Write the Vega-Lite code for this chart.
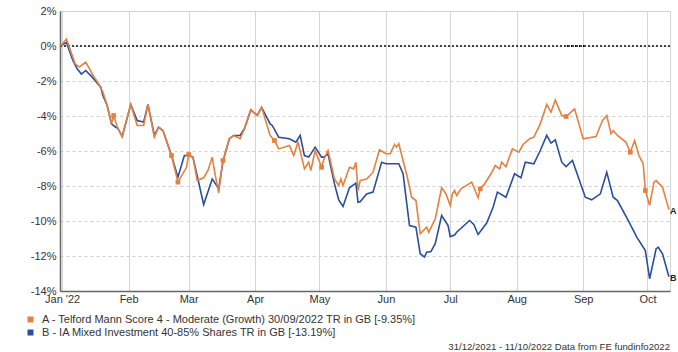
{
  "$schema": "https://vega.github.io/schema/vega-lite/v6.json",
  "width": 610,
  "height": 280,
  "autosize": {"type": "none"},
  "padding": {"left": 60, "top": 11, "right": 8, "bottom": 61},
  "config": {
    "font": "Liberation Sans",
    "view": {"stroke": "#d4d4d4"},
    "axis": {"labelColor": "#333", "labelFontSize": 11, "tickSize": 0, "domainColor": "#666", "domainWidth": 1.5, "titleFontSize": 11}
  },
  "title": {"text": "31/12/2021 - 11/10/2022 Data from FE fundinfo2022", "orient": "bottom", "anchor": "end", "frame": "group", "fontSize": 9.6, "fontWeight": "normal", "color": "#333", "offset": 2},
  "data": {"values": [
    {"d": "2021-12-31", "s": "A", "v": 0},
    {"d": "2022-01-01", "s": "A", "v": 0.1},
    {"d": "2022-01-03", "s": "A", "v": 0.4},
    {"d": "2022-01-05", "s": "A", "v": -0.3},
    {"d": "2022-01-07", "s": "A", "v": -1.0},
    {"d": "2022-01-09", "s": "A", "v": -1.2},
    {"d": "2022-01-12", "s": "A", "v": -0.93},
    {"d": "2022-01-14", "s": "A", "v": -1.35},
    {"d": "2022-01-15", "s": "A", "v": -1.6},
    {"d": "2022-01-18", "s": "A", "v": -2.16},
    {"d": "2022-01-20", "s": "A", "v": -2.64},
    {"d": "2022-01-22", "s": "A", "v": -3.4},
    {"d": "2022-01-24", "s": "A", "v": -4.45},
    {"d": "2022-01-25", "s": "A", "v": -3.97, "m": 1},
    {"d": "2022-01-27", "s": "A", "v": -4.73},
    {"d": "2022-01-29", "s": "A", "v": -5.17},
    {"d": "2022-02-02", "s": "A", "v": -3.34},
    {"d": "2022-02-05", "s": "A", "v": -4.54},
    {"d": "2022-02-08", "s": "A", "v": -4.54},
    {"d": "2022-02-10", "s": "A", "v": -3.34},
    {"d": "2022-02-13", "s": "A", "v": -5.2},
    {"d": "2022-02-15", "s": "A", "v": -4.64},
    {"d": "2022-02-17", "s": "A", "v": -4.83},
    {"d": "2022-02-21", "s": "A", "v": -6.26, "m": 1},
    {"d": "2022-02-24", "s": "A", "v": -7.78, "m": 1},
    {"d": "2022-02-28", "s": "A", "v": -6.93},
    {"d": "2022-03-01", "s": "A", "v": -6.2, "m": 1},
    {"d": "2022-03-03", "s": "A", "v": -6.35},
    {"d": "2022-03-05", "s": "A", "v": -7.69},
    {"d": "2022-03-08", "s": "A", "v": -7.53},
    {"d": "2022-03-10", "s": "A", "v": -7.11},
    {"d": "2022-03-12", "s": "A", "v": -6.35},
    {"d": "2022-03-13", "s": "A", "v": -7.11},
    {"d": "2022-03-15", "s": "A", "v": -8.4},
    {"d": "2022-03-17", "s": "A", "v": -6.54, "m": 1},
    {"d": "2022-03-20", "s": "A", "v": -5.3},
    {"d": "2022-03-22", "s": "A", "v": -5.11},
    {"d": "2022-03-25", "s": "A", "v": -5.3},
    {"d": "2022-03-27", "s": "A", "v": -4.73},
    {"d": "2022-03-30", "s": "A", "v": -3.65},
    {"d": "2022-04-02", "s": "A", "v": -3.97},
    {"d": "2022-04-04", "s": "A", "v": -3.5},
    {"d": "2022-04-08", "s": "A", "v": -5.11},
    {"d": "2022-04-10", "s": "A", "v": -5.4, "m": 1},
    {"d": "2022-04-12", "s": "A", "v": -5.88},
    {"d": "2022-04-17", "s": "A", "v": -5.69},
    {"d": "2022-04-19", "s": "A", "v": -6.26},
    {"d": "2022-04-21", "s": "A", "v": -5.5},
    {"d": "2022-04-24", "s": "A", "v": -7.02},
    {"d": "2022-04-26", "s": "A", "v": -6.64},
    {"d": "2022-04-27", "s": "A", "v": -7.11},
    {"d": "2022-04-29", "s": "A", "v": -5.97},
    {"d": "2022-05-02", "s": "A", "v": -6.93, "m": 1},
    {"d": "2022-05-03", "s": "A", "v": -6.5},
    {"d": "2022-05-05", "s": "A", "v": -5.97},
    {"d": "2022-05-08", "s": "A", "v": -7.6},
    {"d": "2022-05-10", "s": "A", "v": -7.97},
    {"d": "2022-05-11", "s": "A", "v": -7.6},
    {"d": "2022-05-12", "s": "A", "v": -7.97},
    {"d": "2022-05-15", "s": "A", "v": -6.93},
    {"d": "2022-05-17", "s": "A", "v": -7.02},
    {"d": "2022-05-18", "s": "A", "v": -6.64},
    {"d": "2022-05-19", "s": "A", "v": -8.26},
    {"d": "2022-05-20", "s": "A", "v": -7.69},
    {"d": "2022-05-23", "s": "A", "v": -7.6},
    {"d": "2022-05-26", "s": "A", "v": -7.21},
    {"d": "2022-05-29", "s": "A", "v": -5.93},
    {"d": "2022-06-01", "s": "A", "v": -6.16},
    {"d": "2022-06-03", "s": "A", "v": -6.16},
    {"d": "2022-06-05", "s": "A", "v": -5.63},
    {"d": "2022-06-06", "s": "A", "v": -5.78},
    {"d": "2022-06-07", "s": "A", "v": -5.59},
    {"d": "2022-06-11", "s": "A", "v": -7.5},
    {"d": "2022-06-13", "s": "A", "v": -8.64},
    {"d": "2022-06-15", "s": "A", "v": -8.83},
    {"d": "2022-06-17", "s": "A", "v": -10.73},
    {"d": "2022-06-20", "s": "A", "v": -10.35},
    {"d": "2022-06-21", "s": "A", "v": -10.64},
    {"d": "2022-06-24", "s": "A", "v": -9.87},
    {"d": "2022-06-27", "s": "A", "v": -8.1},
    {"d": "2022-06-29", "s": "A", "v": -8.45},
    {"d": "2022-07-01", "s": "A", "v": -9.11},
    {"d": "2022-07-02", "s": "A", "v": -8.45},
    {"d": "2022-07-03", "s": "A", "v": -8.26},
    {"d": "2022-07-04", "s": "A", "v": -8.54},
    {"d": "2022-07-06", "s": "A", "v": -8.16},
    {"d": "2022-07-11", "s": "A", "v": -7.78},
    {"d": "2022-07-12", "s": "A", "v": -8.07},
    {"d": "2022-07-14", "s": "A", "v": -8.67},
    {"d": "2022-07-15", "s": "A", "v": -8.16, "m": 1},
    {"d": "2022-07-17", "s": "A", "v": -7.88},
    {"d": "2022-07-20", "s": "A", "v": -7.3},
    {"d": "2022-07-22", "s": "A", "v": -6.83},
    {"d": "2022-07-24", "s": "A", "v": -7.02},
    {"d": "2022-07-25", "s": "A", "v": -6.64},
    {"d": "2022-07-27", "s": "A", "v": -6.9},
    {"d": "2022-07-28", "s": "A", "v": -6.54},
    {"d": "2022-07-30", "s": "A", "v": -5.88},
    {"d": "2022-08-02", "s": "A", "v": -6.07},
    {"d": "2022-08-04", "s": "A", "v": -5.63},
    {"d": "2022-08-07", "s": "A", "v": -5.3},
    {"d": "2022-08-09", "s": "A", "v": -5.21},
    {"d": "2022-08-12", "s": "A", "v": -4.45},
    {"d": "2022-08-15", "s": "A", "v": -3.34},
    {"d": "2022-08-17", "s": "A", "v": -3.78},
    {"d": "2022-08-19", "s": "A", "v": -3.08},
    {"d": "2022-08-22", "s": "A", "v": -3.97},
    {"d": "2022-08-24", "s": "A", "v": -4.03, "m": 1},
    {"d": "2022-08-28", "s": "A", "v": -3.59},
    {"d": "2022-09-01", "s": "A", "v": -5.3},
    {"d": "2022-09-07", "s": "A", "v": -5.17},
    {"d": "2022-09-10", "s": "A", "v": -4.26},
    {"d": "2022-09-12", "s": "A", "v": -3.97},
    {"d": "2022-09-14", "s": "A", "v": -5.02},
    {"d": "2022-09-15", "s": "A", "v": -4.83},
    {"d": "2022-09-17", "s": "A", "v": -5.11},
    {"d": "2022-09-21", "s": "A", "v": -5.5},
    {"d": "2022-09-23", "s": "A", "v": -6.07, "m": 1},
    {"d": "2022-09-25", "s": "A", "v": -5.4},
    {"d": "2022-09-27", "s": "A", "v": -6.26},
    {"d": "2022-09-29", "s": "A", "v": -6.73},
    {"d": "2022-09-30", "s": "A", "v": -8.26, "m": 1},
    {"d": "2022-10-02", "s": "A", "v": -9.11},
    {"d": "2022-10-04", "s": "A", "v": -7.78},
    {"d": "2022-10-05", "s": "A", "v": -7.69},
    {"d": "2022-10-08", "s": "A", "v": -8.07},
    {"d": "2022-10-11", "s": "A", "v": -9.35},
    {"d": "2021-12-31", "s": "B", "v": 0},
    {"d": "2022-01-03", "s": "B", "v": 0.2},
    {"d": "2022-01-06", "s": "B", "v": -0.83},
    {"d": "2022-01-08", "s": "B", "v": -1.3},
    {"d": "2022-01-10", "s": "B", "v": -1.6},
    {"d": "2022-01-12", "s": "B", "v": -1.4},
    {"d": "2022-01-15", "s": "B", "v": -1.78},
    {"d": "2022-01-19", "s": "B", "v": -2.35},
    {"d": "2022-01-20", "s": "B", "v": -2.83},
    {"d": "2022-01-22", "s": "B", "v": -3.4},
    {"d": "2022-01-24", "s": "B", "v": -4.45},
    {"d": "2022-01-26", "s": "B", "v": -4.64},
    {"d": "2022-01-27", "s": "B", "v": -4.7},
    {"d": "2022-01-29", "s": "B", "v": -5.17},
    {"d": "2022-02-02", "s": "B", "v": -3.34},
    {"d": "2022-02-05", "s": "B", "v": -4.26},
    {"d": "2022-02-08", "s": "B", "v": -4.35},
    {"d": "2022-02-10", "s": "B", "v": -3.34},
    {"d": "2022-02-13", "s": "B", "v": -5.1},
    {"d": "2022-02-15", "s": "B", "v": -4.64},
    {"d": "2022-02-17", "s": "B", "v": -4.83},
    {"d": "2022-02-21", "s": "B", "v": -6.26},
    {"d": "2022-02-24", "s": "B", "v": -7.5},
    {"d": "2022-02-27", "s": "B", "v": -6.26},
    {"d": "2022-03-01", "s": "B", "v": -6.26},
    {"d": "2022-03-03", "s": "B", "v": -6.35},
    {"d": "2022-03-08", "s": "B", "v": -9.06},
    {"d": "2022-03-12", "s": "B", "v": -7.6},
    {"d": "2022-03-13", "s": "B", "v": -7.78},
    {"d": "2022-03-15", "s": "B", "v": -8.16},
    {"d": "2022-03-17", "s": "B", "v": -6.6},
    {"d": "2022-03-20", "s": "B", "v": -5.3},
    {"d": "2022-03-22", "s": "B", "v": -5.11},
    {"d": "2022-03-25", "s": "B", "v": -5.11},
    {"d": "2022-03-27", "s": "B", "v": -4.73},
    {"d": "2022-03-30", "s": "B", "v": -3.65},
    {"d": "2022-04-02", "s": "B", "v": -3.97},
    {"d": "2022-04-04", "s": "B", "v": -3.5},
    {"d": "2022-04-08", "s": "B", "v": -4.45},
    {"d": "2022-04-09", "s": "B", "v": -4.54},
    {"d": "2022-04-12", "s": "B", "v": -5.21},
    {"d": "2022-04-17", "s": "B", "v": -5.3},
    {"d": "2022-04-20", "s": "B", "v": -5.5},
    {"d": "2022-04-22", "s": "B", "v": -5.11},
    {"d": "2022-04-24", "s": "B", "v": -6.26},
    {"d": "2022-04-26", "s": "B", "v": -6.35},
    {"d": "2022-04-29", "s": "B", "v": -5.78},
    {"d": "2022-05-02", "s": "B", "v": -6.35},
    {"d": "2022-05-03", "s": "B", "v": -6.35},
    {"d": "2022-05-05", "s": "B", "v": -6.16},
    {"d": "2022-05-08", "s": "B", "v": -7.88},
    {"d": "2022-05-10", "s": "B", "v": -8.79},
    {"d": "2022-05-12", "s": "B", "v": -9.17},
    {"d": "2022-05-15", "s": "B", "v": -8.1},
    {"d": "2022-05-18", "s": "B", "v": -7.84},
    {"d": "2022-05-19", "s": "B", "v": -8.93},
    {"d": "2022-05-20", "s": "B", "v": -8.9},
    {"d": "2022-05-23", "s": "B", "v": -8.45},
    {"d": "2022-05-26", "s": "B", "v": -8.35},
    {"d": "2022-05-30", "s": "B", "v": -6.64},
    {"d": "2022-06-01", "s": "B", "v": -6.73},
    {"d": "2022-06-07", "s": "B", "v": -6.73},
    {"d": "2022-06-09", "s": "B", "v": -7.3},
    {"d": "2022-06-12", "s": "B", "v": -10.26},
    {"d": "2022-06-15", "s": "B", "v": -10.35},
    {"d": "2022-06-17", "s": "B", "v": -11.87},
    {"d": "2022-06-19", "s": "B", "v": -12.06},
    {"d": "2022-06-20", "s": "B", "v": -11.78},
    {"d": "2022-06-22", "s": "B", "v": -11.75},
    {"d": "2022-06-24", "s": "B", "v": -11.3},
    {"d": "2022-06-27", "s": "B", "v": -9.69},
    {"d": "2022-06-30", "s": "B", "v": -10.26},
    {"d": "2022-07-01", "s": "B", "v": -10.89},
    {"d": "2022-07-03", "s": "B", "v": -10.8},
    {"d": "2022-07-04", "s": "B", "v": -10.64},
    {"d": "2022-07-10", "s": "B", "v": -9.97},
    {"d": "2022-07-12", "s": "B", "v": -10.2},
    {"d": "2022-07-14", "s": "B", "v": -10.77},
    {"d": "2022-07-18", "s": "B", "v": -10.12},
    {"d": "2022-07-21", "s": "B", "v": -9.21},
    {"d": "2022-07-23", "s": "B", "v": -8.35},
    {"d": "2022-07-27", "s": "B", "v": -8.64},
    {"d": "2022-07-31", "s": "B", "v": -7.3},
    {"d": "2022-08-03", "s": "B", "v": -7.53},
    {"d": "2022-08-05", "s": "B", "v": -6.64},
    {"d": "2022-08-09", "s": "B", "v": -6.73},
    {"d": "2022-08-12", "s": "B", "v": -5.97},
    {"d": "2022-08-15", "s": "B", "v": -5.11},
    {"d": "2022-08-17", "s": "B", "v": -5.55},
    {"d": "2022-08-19", "s": "B", "v": -5.36},
    {"d": "2022-08-22", "s": "B", "v": -6.64},
    {"d": "2022-08-24", "s": "B", "v": -6.89},
    {"d": "2022-08-27", "s": "B", "v": -6.54},
    {"d": "2022-09-02", "s": "B", "v": -8.64},
    {"d": "2022-09-05", "s": "B", "v": -8.79},
    {"d": "2022-09-09", "s": "B", "v": -8.45},
    {"d": "2022-09-12", "s": "B", "v": -7.21},
    {"d": "2022-09-15", "s": "B", "v": -8.64},
    {"d": "2022-09-17", "s": "B", "v": -8.83},
    {"d": "2022-09-22", "s": "B", "v": -9.97},
    {"d": "2022-09-26", "s": "B", "v": -10.92},
    {"d": "2022-09-30", "s": "B", "v": -11.69},
    {"d": "2022-10-02", "s": "B", "v": -13.3},
    {"d": "2022-10-05", "s": "B", "v": -11.6},
    {"d": "2022-10-06", "s": "B", "v": -11.5},
    {"d": "2022-10-08", "s": "B", "v": -11.87},
    {"d": "2022-10-11", "s": "B", "v": -13.19}
  ]},
  "encoding": {
    "x": {
      "field": "d", "type": "temporal", "title": null,
      "scale": {"domain": [{"year": 2021, "month": 12, "date": 31}, {"year": 2022, "month": 10, "date": 11, "hours": 12}]},
      "axis": {"tickCount": {"interval": "month", "step": 1}, "labelExpr": "month(datum.value)==0 ? \"Jan '22\" : timeFormat(datum.value, '%b')", "gridColor": "#d6d6d6", "gridWidth": 1, "labelPadding": 2, "labelFlush": false, "labelOverlap": false}
    },
    "y": {
      "field": "v", "type": "quantitative", "title": null,
      "scale": {"domain": [-14, 2], "nice": false, "zero": false},
      "axis": {"values": [-14, -12, -10, -8, -6, -4, -2, 0, 2], "labelExpr": "datum.value + '%'", "gridColor": "#cfcfcf", "gridDash": [3, 3], "labelPadding": 4}
    },
    "color": {
      "field": "s", "type": "nominal",
      "scale": {"domain": ["A", "B"], "range": ["#E5803F", "#2A4E9C"]},
      "legend": {
        "title": null, "orient": "none", "legendX": -35, "legendY": 303, "direction": "vertical",
        "symbolType": "square", "symbolSize": 9, "symbolStrokeWidth": 3,
        "labelFontSize": 11, "labelColor": "#333", "labelLimit": 500, "rowPadding": -5, "labelOffset": 6,
        "labelExpr": "datum.value == 'A' ? 'A - Telford Mann Score 4 - Moderate (Growth) 30/09/2022 TR in GB [-9.35%]' : 'B - IA Mixed Investment 40-85% Shares TR in GB [-13.19%]'"
      }
    }
  },
  "layer": [
    {"mark": {"type": "rule", "color": "#444", "strokeDash": [2, 2], "strokeWidth": 1}, "encoding": {"x": null, "color": null, "y": {"datum": 0}}},
    {"transform": [{"filter": "datum.s == 'B'"}], "mark": {"type": "line", "strokeWidth": 1.6}},
    {"transform": [{"filter": "datum.s == 'A'"}], "mark": {"type": "line", "strokeWidth": 1.6}},
    {"transform": [{"filter": "datum.m == 1"}], "mark": {"type": "square", "size": 22, "opacity": 1, "filled": true}},
    {"transform": [{"filter": "time(datum.d) >= time(datetime(2022, 9, 11))"}], "mark": {"type": "text", "align": "left", "dx": 1, "dy": 1, "fontWeight": "bold", "fontSize": 9, "color": "#222"}, "encoding": {"text": {"field": "s"}, "color": null}}
  ]
}
